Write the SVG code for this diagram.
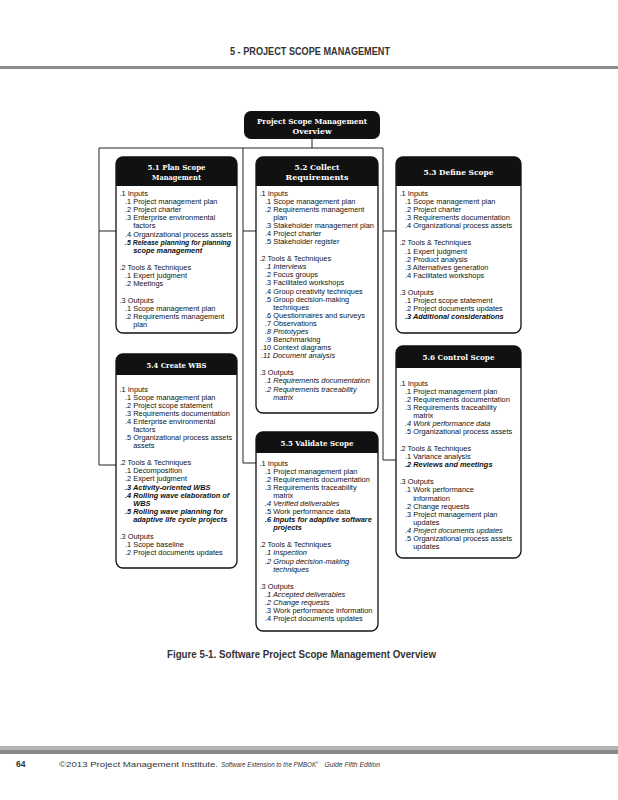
<svg xmlns="http://www.w3.org/2000/svg" width="618" height="800" viewBox="0 0 618 800">
<style>
.t{font-family:"Liberation Sans",Arial,sans-serif;font-size:7.4px;fill:#111}
.i{font-style:italic}
.bi{font-style:italic;font-weight:bold}
.ttl{font-family:"DejaVu Serif",serif;font-weight:bold;font-size:8px;fill:#fff;text-anchor:middle}
.box{fill:#fff;stroke:#111;stroke-width:1.3}
.hdr{fill:#111}
.conn{stroke:#222;stroke-width:1;fill:none}
.pg{font-family:"Liberation Sans",Arial,sans-serif;fill:#333}
</style>
<rect width="618" height="800" fill="#fff"/>
<!-- page header -->
<text class="pg" x="230" y="55" font-size="10" font-weight="bold" textLength="160" lengthAdjust="spacingAndGlyphs">5 - PROJECT SCOPE MANAGEMENT</text>
<rect x="0" y="66" width="618" height="3" fill="#8c8c8c"/>

<g id="connectors" class="conn">
<path d="M312,139V148M99,148H383"/>
<path d="M99,148V465H116M99,231H116"/>
<path d="M243,148V463H256M243,231H256"/>
<path d="M383,148V460H396M383,231H396"/>
</g>

<g id="node-overview">
<rect x="244" y="111" width="136" height="28" rx="7" class="hdr"/>
<text class="ttl" x="312" y="124" textLength="110" lengthAdjust="spacingAndGlyphs">Project Scope Management</text>
<text class="ttl" x="312" y="134" textLength="39" lengthAdjust="spacingAndGlyphs">Overview</text>
</g>

<g id="node-5-1">
<rect x="116" y="157" width="121" height="176" rx="7" class="box"/>
<path class="hdr" d="M116,186V164A7,7 0 0 1 123,157H230A7,7 0 0 1 237,164V186Z"/>
<text class="ttl" x="176.5" y="169.5" textLength="58" lengthAdjust="spacingAndGlyphs">5.1 Plan Scope</text>
<text class="ttl" x="176.5" y="179.5" textLength="49" lengthAdjust="spacingAndGlyphs">Management</text>
<text class="t" x="119.5" y="196">.1 Inputs</text>
<text class="t" x="125" y="204.1">.1 Project management plan</text>
<text class="t" x="125" y="212.2">.2 Project charter</text>
<text class="t" x="125" y="220.3">.3 Enterprise environmental</text>
<text class="t" x="133.2" y="228.4">factors</text>
<text class="t" x="125" y="236.5">.4 Organizational process assets</text>
<text class="t bi" x="125" y="244.6" textLength="106" lengthAdjust="spacingAndGlyphs">.5 Release planning for planning</text>
<text class="t bi" x="133.2" y="252.7">scope management</text>
<text class="t" x="119.5" y="269.7">.2 Tools &amp; Techniques</text>
<text class="t" x="125" y="277.8">.1 Expert judgment</text>
<text class="t" x="125" y="285.9">.2 Meetings</text>
<text class="t" x="119.5" y="302.9">.3 Outputs</text>
<text class="t" x="125" y="311">.1 Scope management plan</text>
<text class="t" x="125" y="319.1">.2 Requirements management</text>
<text class="t" x="133.2" y="327.2">plan</text>
</g>

<g id="node-5-2">
<rect x="256" y="157" width="122" height="256" rx="7" class="box"/>
<path class="hdr" d="M256,186V164A7,7 0 0 1 263,157H371A7,7 0 0 1 378,164V186Z"/>
<text class="ttl" x="317" y="169.5" textLength="45" lengthAdjust="spacingAndGlyphs">5.2 Collect</text>
<text class="ttl" x="317" y="179.5" textLength="63" lengthAdjust="spacingAndGlyphs">Requirements</text>
<text class="t" x="259.5" y="195.5">.1 Inputs</text>
<text class="t" x="265" y="203.6">.1 Scope management plan</text>
<text class="t" x="265" y="211.7">.2 Requirements management</text>
<text class="t" x="273.2" y="219.8">plan</text>
<text class="t" x="265" y="227.9">.3 Stakeholder management plan</text>
<text class="t" x="265" y="236">.4 Project charter</text>
<text class="t" x="265" y="244.1">.5 Stakeholder register</text>
<text class="t" x="259.5" y="261.1">.2 Tools &amp; Techniques</text>
<text class="t i" x="265" y="269.2">.1 Interviews</text>
<text class="t" x="265" y="277.3">.2 Focus groups</text>
<text class="t" x="265" y="285.4">.3 Facilitated workshops</text>
<text class="t" x="265" y="293.5">.4 Group creativity techniques</text>
<text class="t" x="265" y="301.6">.5 Group decision-making</text>
<text class="t" x="273.2" y="309.7">techniques</text>
<text class="t" x="265" y="317.8">.6 Questionnaires and surveys</text>
<text class="t" x="265" y="325.9">.7 Observations</text>
<text class="t i" x="265" y="334">.8 Prototypes</text>
<text class="t" x="265" y="342.1">.9 Benchmarking</text>
<text class="t" x="260.9" y="350.2">.10 Context diagrams</text>
<text class="t i" x="260.9" y="358.3">.11 Document analysis</text>
<text class="t" x="259.5" y="375.3">.3 Outputs</text>
<text class="t i" x="265" y="383.4">.1 Requirements documentation</text>
<text class="t i" x="265" y="391.5">.2 Requirements traceability</text>
<text class="t i" x="273.2" y="399.6">matrix</text>
</g>

<g id="node-5-3">
<rect x="396" y="157" width="125" height="176" rx="7" class="box"/>
<path class="hdr" d="M396,186V164A7,7 0 0 1 403,157H514A7,7 0 0 1 521,164V186Z"/>
<text class="ttl" x="458.5" y="175" textLength="70" lengthAdjust="spacingAndGlyphs">5.3 Define Scope</text>
<text class="t" x="399.5" y="196">.1 Inputs</text>
<text class="t" x="405" y="204.1">.1 Scope management plan</text>
<text class="t" x="405" y="212.2">.2 Project charter</text>
<text class="t" x="405" y="220.3">.3 Requirements documentation</text>
<text class="t" x="405" y="228.4">.4 Organizational process assets</text>
<text class="t" x="399.5" y="245.4">.2 Tools &amp; Techniques</text>
<text class="t" x="405" y="253.5">.1 Expert judgment</text>
<text class="t" x="405" y="261.6">.2 Product analysis</text>
<text class="t" x="405" y="269.7">.3 Alternatives generation</text>
<text class="t" x="405" y="277.8">.4 Facilitated workshops</text>
<text class="t" x="399.5" y="294.8">.3 Outputs</text>
<text class="t" x="405" y="302.9">.1 Project scope statement</text>
<text class="t" x="405" y="311">.2 Project documents updates</text>
<text class="t bi" x="405" y="319.1">.3 Additional considerations</text>
</g>

<g id="node-5-4">
<rect x="116" y="354" width="121" height="214" rx="7" class="box"/>
<path class="hdr" d="M116,375V361A7,7 0 0 1 123,354H230A7,7 0 0 1 237,361V375Z"/>
<text class="ttl" x="176.5" y="367.5" textLength="60" lengthAdjust="spacingAndGlyphs">5.4 Create WBS</text>
<text class="t" x="119.5" y="391.5">.1 Inputs</text>
<text class="t" x="125" y="399.6">.1 Scope management plan</text>
<text class="t" x="125" y="407.7">.2 Project scope statement</text>
<text class="t" x="125" y="415.8">.3 Requirements documentation</text>
<text class="t" x="125" y="423.9">.4 Enterprise environmental</text>
<text class="t" x="133.2" y="432">factors</text>
<text class="t" x="125" y="440.1">.5 Organizational process assets</text>
<text class="t" x="133.2" y="448.2">assets</text>
<text class="t" x="119.5" y="465.2">.2 Tools &amp; Techniques</text>
<text class="t" x="125" y="473.3">.1 Decomposition</text>
<text class="t" x="125" y="481.4">.2 Expert judgment</text>
<text class="t bi" x="125" y="489.5">.3 Activity-oriented WBS</text>
<text class="t bi" x="125" y="497.6">.4 Rolling wave elaboration of</text>
<text class="t bi" x="133.2" y="505.7">WBS</text>
<text class="t bi" x="125" y="513.8">.5 Rolling wave planning for</text>
<text class="t bi" x="133.2" y="521.9">adaptive life cycle projects</text>
<text class="t" x="119.5" y="538.9">.3 Outputs</text>
<text class="t" x="125" y="547">.1 Scope baseline</text>
<text class="t" x="125" y="555.1">.2 Project documents updates</text>
</g>

<g id="node-5-5">
<rect x="256" y="432" width="122" height="199" rx="7" class="box"/>
<path class="hdr" d="M256,453V439A7,7 0 0 1 263,432H371A7,7 0 0 1 378,439V453Z"/>
<text class="ttl" x="317" y="445.5" textLength="73" lengthAdjust="spacingAndGlyphs">5.5 Validate Scope</text>
<text class="t" x="259.5" y="465.5">.1 Inputs</text>
<text class="t" x="265" y="473.6">.1 Project management plan</text>
<text class="t" x="265" y="481.7">.2 Requirements documentation</text>
<text class="t" x="265" y="489.8">.3 Requirements traceability</text>
<text class="t" x="273.2" y="497.9">matrix</text>
<text class="t i" x="265" y="506">.4 Verified deliverables</text>
<text class="t" x="265" y="514.1">.5 Work performance data</text>
<text class="t bi" x="265" y="522.2">.6 Inputs for adaptive software</text>
<text class="t bi" x="273.2" y="530.3">projects</text>
<text class="t" x="259.5" y="547.3">.2 Tools &amp; Techniques</text>
<text class="t i" x="265" y="555.4">.1 Inspection</text>
<text class="t i" x="265" y="563.5">.2 Group decision-making</text>
<text class="t i" x="273.2" y="571.6">techniques</text>
<text class="t" x="259.5" y="588.6">.3 Outputs</text>
<text class="t i" x="265" y="596.7">.1 Accepted deliverables</text>
<text class="t i" x="265" y="604.8">.2 Change requests</text>
<text class="t" x="265" y="612.9">.3 Work performance information</text>
<text class="t" x="265" y="621">.4 Project documents updates</text>
</g>

<g id="node-5-6">
<rect x="396" y="346" width="125" height="212" rx="7" class="box"/>
<path class="hdr" d="M396,368V353A7,7 0 0 1 403,346H514A7,7 0 0 1 521,353V368Z"/>
<text class="ttl" x="458.5" y="360" textLength="72" lengthAdjust="spacingAndGlyphs">5.6 Control Scope</text>
<text class="t" x="399.5" y="385.5">.1 Inputs</text>
<text class="t" x="405" y="393.6">.1 Project management plan</text>
<text class="t" x="405" y="401.7">.2 Requirements documentation</text>
<text class="t" x="405" y="409.8">.3 Requirements traceability</text>
<text class="t" x="413.2" y="417.9">matrix</text>
<text class="t i" x="405" y="426">.4 Work performance data</text>
<text class="t" x="405" y="434.1">.5 Organizational process assets</text>
<text class="t" x="399.5" y="451.1">.2 Tools &amp; Techniques</text>
<text class="t" x="405" y="459.2">.1 Variance analysis</text>
<text class="t bi" x="405" y="467.3">.2 Reviews and meetings</text>
<text class="t" x="399.5" y="484.3">.3 Outputs</text>
<text class="t" x="405" y="492.4">.1 Work performance</text>
<text class="t" x="413.2" y="500.5">information</text>
<text class="t" x="405" y="508.6">.2 Change requests</text>
<text class="t" x="405" y="516.7">.3 Project management plan</text>
<text class="t" x="413.2" y="524.8">updates</text>
<text class="t i" x="405" y="532.9">.4 Project documents updates</text>
<text class="t" x="405" y="541">.5 Organizational process assets</text>
<text class="t" x="413.2" y="549.1">updates</text>
</g>

<!-- caption -->
<text class="pg" x="167" y="658" font-size="11" font-weight="bold" fill="#111" textLength="269" lengthAdjust="spacingAndGlyphs">Figure 5-1. Software Project Scope Management Overview</text>

<!-- footer -->
<rect x="0" y="746" width="618" height="4" fill="#b3b3b3"/>
<rect x="0" y="750" width="618" height="4" fill="#888"/>
<text class="pg" x="16" y="767" font-size="8.5" font-weight="bold" fill="#222">64</text>
<text class="pg" x="59" y="767" font-size="7.6" textLength="159" lengthAdjust="spacingAndGlyphs">©2013 Project Management Institute.</text>
<text class="pg" transform="translate(221,767) scale(0.82,1)" font-size="7.6" font-style="italic">Software Extension to the PMBOK<tspan font-size="4" dy="-3">®</tspan></text>
<text class="pg" transform="translate(324.5,767) scale(0.89,1)" font-size="7.6" font-style="italic">Guide Fifth Edition</text>
</svg>
